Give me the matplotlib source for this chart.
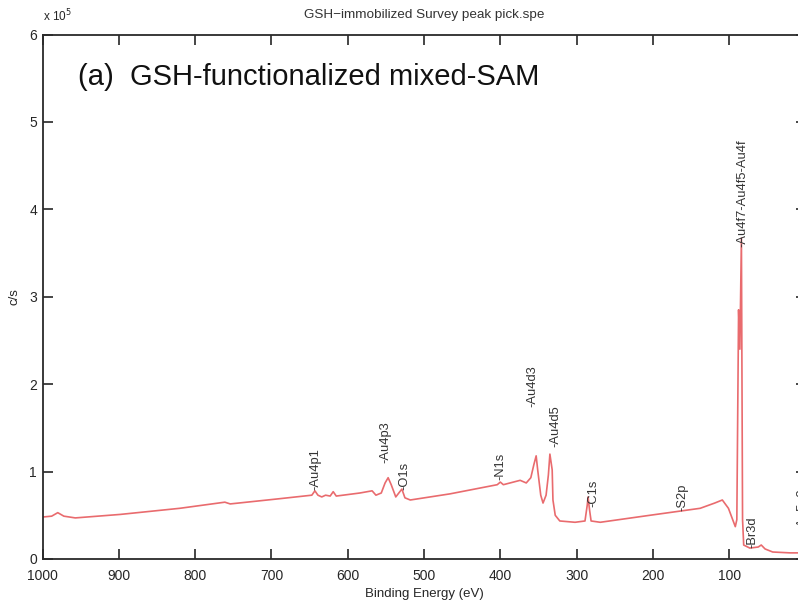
import matplotlib
matplotlib.use("Agg")
import matplotlib.pyplot as plt

plt.rcParams['font.family'] = ['Liberation Sans', 'DejaVu Sans']

# Spectrum: binding energy (eV) and intensity (x 1e5 c/s)
energy = [1000, 988, 980, 972, 957, 898, 820, 761, 754, 689, 647, 643, 639, 634,
          629, 623, 619, 615, 584, 568, 563, 556, 551, 547, 543, 537, 533, 529,
          525, 518, 466, 404, 400, 396, 374, 366, 360, 356, 353, 351, 347, 344,
          340, 337, 335, 332, 331, 328, 322, 302, 289, 286, 285, 283, 281, 269,
          204, 138, 119, 109, 101, 92, 90, 87.7, 86, 84, 82.5, 81, 73, 62, 58,
          53, 43, 20, 0]
intensity = [0.48, 0.49, 0.53, 0.49, 0.47, 0.51, 0.58, 0.65, 0.63, 0.69, 0.73,
             0.78, 0.73, 0.71, 0.73, 0.72, 0.77, 0.72, 0.755, 0.78, 0.73, 0.755,
             0.87, 0.93, 0.85, 0.71, 0.755, 0.80, 0.70, 0.675, 0.745, 0.85, 0.88,
             0.85, 0.90, 0.87, 0.93, 1.08, 1.18, 1.02, 0.73, 0.64, 0.73, 0.96,
             1.20, 1.02, 0.675, 0.50, 0.435, 0.42, 0.435, 0.62, 0.71, 0.56, 0.435,
             0.42, 0.50, 0.58, 0.64, 0.675, 0.58, 0.37, 0.45, 2.85, 2.40, 3.67,
             0.45, 0.16, 0.125, 0.137, 0.16, 0.115, 0.08, 0.07, 0.07]

# Peak labels: text, energy position, bottom of label (x 1e5 c/s)
peak_labels = ['-Au4p1', '-Au4p3', '-O1s', '-N1s', '-Au4d3', '-Au4d5', '-C1s',
               '-S2p', '-Au4f7-Au4f5-Au4f', '-Br3d', '-Au5p3']
peak_energy = [643, 550, 526, 400, 358, 328, 278, 162, 83, 70, 4]
peak_bottom = [0.79, 1.10, 0.79, 0.90, 1.74, 1.28, 0.59, 0.55, 3.57, 0.13, 0.33]

x_ticks = [1000, 900, 800, 700, 600, 500, 400, 300, 200, 100]
y_ticks = [0, 1, 2, 3, 4, 5, 6]

W, H = 798, 608
fig = plt.figure(figsize=(W / 100, H / 100), dpi=100)
left, right, top, bottom = 42.5, 805.5, 34.5, 559
ax = fig.add_axes([left / W, 1 - bottom / H, (right - left) / W, (bottom - top) / H])

ax.plot(energy, intensity, color='#e96b6e', lw=1.2)

ax.set_xlim(1000, 0)
ax.set_ylim(0, 6)
ax.set_xticks(x_ticks)
ax.set_xticklabels([str(v) for v in x_ticks])
ax.set_yticks(y_ticks)
ax.set_yticklabels([str(v) for v in y_ticks])

tc = '#262626'
ax.tick_params(direction='in', length=7, width=1.2, colors=tc, labelsize=10,
               top=True, right=True)
ax.tick_params(axis='x', pad=7)
ax.tick_params(axis='y', pad=4)
for s in ax.spines.values():
    s.set_color('#2a2a2a')
    s.set_linewidth(1.3)

for t, e, b in zip(peak_labels, peak_energy, peak_bottom):
    ax.text(e, b, t, rotation=90, ha='center', va='bottom', fontsize=9.3,
            color='#333333')

ax.set_title('GSH\u2212immobilized Survey peak pick.spe', fontsize=9.7,
             color='#333333', pad=12)
ax.set_xlabel('Binding Energy (eV)', fontsize=9.5, color=tc, labelpad=4)
ax.set_ylabel('c/s', fontsize=9.5, color=tc, labelpad=6)

fig.text(43 / W, 1 - 16 / H, 'x 10$^5$', fontsize=8.5, color=tc,
         ha='left', va='center')
fig.text(78 / W, 1 - 85 / H, '(a)  GSH-functionalized mixed-SAM', fontsize=21,
         color='#111111', ha='left', va='baseline')

fig.savefig('out.png', dpi=100)
